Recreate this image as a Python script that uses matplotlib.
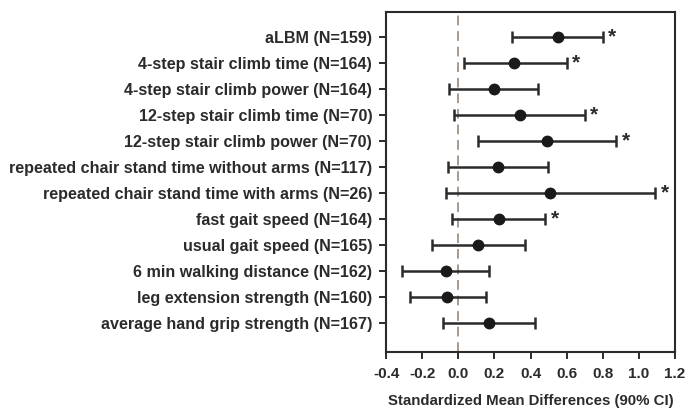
import matplotlib
matplotlib.use("Agg")
import matplotlib.pyplot as plt

labels = [
    "aLBM (N=159)",
    "4-step stair climb time (N=164)",
    "4-step stair climb power (N=164)",
    "12-step stair climb time (N=70)",
    "12-step stair climb power (N=70)",
    "repeated chair stand time without arms (N=117)",
    "repeated chair stand time with arms (N=26)",
    "fast gait speed (N=164)",
    "usual gait speed (N=165)",
    "6 min walking distance (N=162)",
    "leg extension strength (N=160)",
    "average hand grip strength (N=167)",
]
smd = [0.55, 0.31, 0.20, 0.34, 0.49, 0.22, 0.51, 0.225, 0.11, -0.07, -0.06, 0.17]
ci_low = [0.30, 0.03, -0.05, -0.025, 0.11, -0.055, -0.07, -0.035, -0.145, -0.31, -0.265, -0.085]
ci_high = [0.80, 0.60, 0.44, 0.70, 0.875, 0.495, 1.09, 0.48, 0.37, 0.17, 0.155, 0.425]
significant = [True, True, False, True, True, False, True, True, False, False, False, False]
xticks = [-0.4, -0.2, 0.0, 0.2, 0.4, 0.6, 0.8, 1.0, 1.2]

plt.rcParams['font.family'] = ['Liberation Sans', 'DejaVu Sans']
dark = "#2b2b2b"

fig = plt.figure(figsize=(6.87, 4.11), dpi=100)
ax = fig.add_axes([0.562, 0.1435, 0.4205, 0.8275])

ypos = list(range(len(labels)))
err_lo = [m - l for m, l in zip(smd, ci_low)]
err_hi = [h - m for m, h in zip(smd, ci_high)]
ax.axvline(0, color="#a8998c", linestyle=(0, (5, 3)), linewidth=1.4, zorder=1)
ax.errorbar(smd, ypos, xerr=[err_lo, err_hi], fmt='o', color=dark,
            ecolor=dark, elinewidth=1.8, capsize=4, capthick=1.8,
            markersize=7.5, markerfacecolor="#1a1a1a", markeredgecolor="#1a1a1a", zorder=3)

for y, h, s in zip(ypos, ci_high, significant):
    if s:
        ax.annotate("*", xy=(h, y), xytext=(4, 0), textcoords="offset points",
                    ha="left", va="center", fontsize=15, fontweight="bold", color=dark)

ax.set_xlim(-0.4, 1.2)
ax.set_ylim(len(labels) - 1 + 1.1, -0.95)
ax.set_xticks(xticks)
ax.set_xticklabels([f"{t:.1f}" for t in xticks], fontsize=11, fontweight="bold", color=dark)
ax.set_yticks(ypos)
ax.set_yticklabels(labels, fontsize=11.6, fontweight="bold", color=dark)
ax.tick_params(axis="y", length=5, width=1.4, color=dark, pad=5)
ax.tick_params(axis="x", length=5, width=1.4, color=dark, pad=6)
for sp in ax.spines.values():
    sp.set_color(dark)
    sp.set_linewidth(1.5)
ax.set_xlabel("Standardized Mean Differences (90% CI)", fontsize=10.8,
              fontweight="bold", color=dark, labelpad=9)

fig.savefig("out.png", dpi=100)
